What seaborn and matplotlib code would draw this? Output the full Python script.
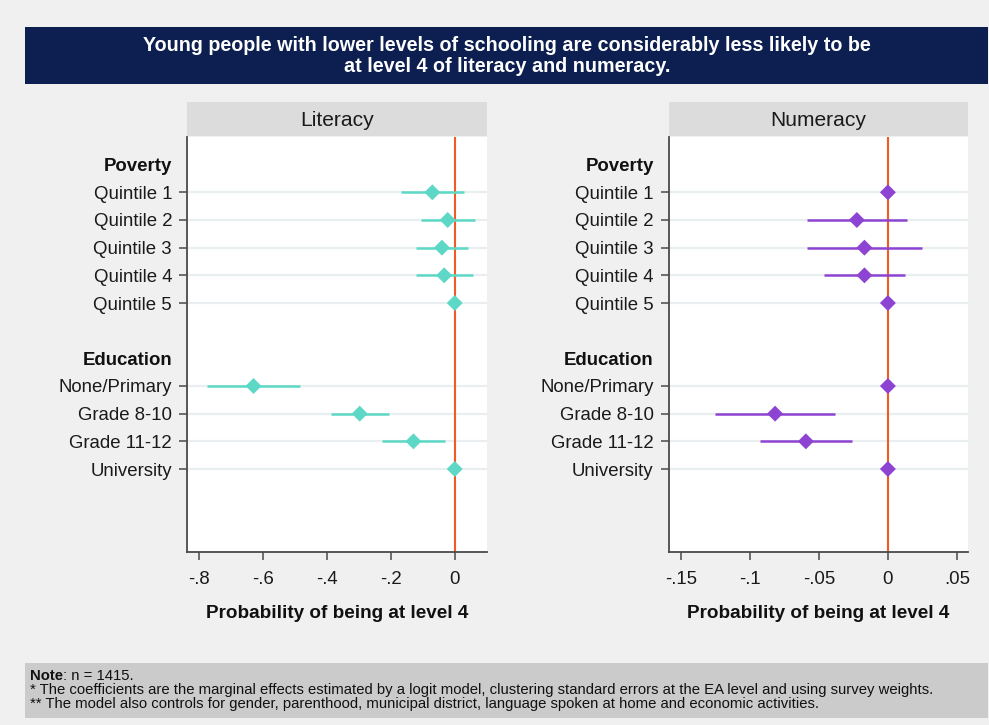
import matplotlib
matplotlib.use("Agg")
import matplotlib.pyplot as plt
import numpy as np
import pandas as pd
import seaborn as sns
from matplotlib.patches import Rectangle
from matplotlib.text import Annotation

# ---- data -------------------------------------------------------------
row_labels = ["Poverty", "Quintile 1", "Quintile 2", "Quintile 3", "Quintile 4",
              "Quintile 5", "", "Education", "None/Primary", "Grade 8-10",
              "Grade 11-12", "University"]
header_labels = ["Poverty", "Education"]

categories = ["Quintile 1", "Quintile 2", "Quintile 3", "Quintile 4", "Quintile 5",
              "None/Primary", "Grade 8-10", "Grade 11-12", "University"]

lit_coef = [-0.070, -0.022, -0.040, -0.033, 0.0, -0.629, -0.297, -0.129, 0.0]
lit_low = [-0.167, -0.106, -0.120, -0.122, 0.0, -0.773, -0.388, -0.226, 0.0]
lit_high = [0.028, 0.063, 0.042, 0.056, 0.0, -0.484, -0.205, -0.031, 0.0]

num_coef = [0.0, -0.0225, -0.017, -0.017, 0.0, 0.0, -0.0817, -0.0594, 0.0]
num_low = [0.0, -0.0585, -0.0585, -0.046, 0.0, 0.0, -0.125, -0.0928, 0.0]
num_high = [0.0, 0.0135, 0.0249, 0.0123, 0.0, 0.0, -0.0382, -0.0259, 0.0]

lit_ticks = [-0.8, -0.6, -0.4, -0.2, 0.0]
lit_ticklabels = ["-.8", "-.6", "-.4", "-.2", "0"]
num_ticks = [-0.15, -0.10, -0.05, 0.0, 0.05]
num_ticklabels = ["-.15", "-.1", "-.05", "0", ".05"]

title = ("Young people with lower levels of schooling are considerably less likely to be\n"
         "at level 4 of literacy and numeracy.")
x_label = "Probability of being at level 4"
notes = ["* The coefficients are the marginal effects estimated by a logit model, clustering standard errors at the EA level and using survey weights.",
         "** The model also controls for gender, parenthood, municipal district, language spoken at home and economic activities."]

# ---- style ------------------------------------------------------------
sns.set_theme(style="white")
plt.rcParams["font.family"] = ["Liberation Sans", "DejaVu Sans"]

BG = "#f0f0f0"
NAVY = "#0c1f50"
STRIP = "#dcdcdc"
NOTE_BG = "#cbcbcb"
REF = "#f05a23"
TEAL = "#5dd8c6"
PURPLE = "#8e44d2"
GRID = "#e9eff1"
SPINE = "#4a4a4a"

W, H = 989, 725
fig = plt.figure(figsize=(W / 100, H / 100), dpi=100, facecolor=BG)


def fx(px):
    return px / W


def fy(py):
    return 1 - py / H


# title banner
fig.add_artist(Rectangle((fx(25), fy(84)), fx(988) - fx(25), fy(27) - fy(84),
                         transform=fig.transFigure, facecolor=NAVY, edgecolor="none"))
fig.text(fx(507), fy(56), title, ha="center", va="center", color="white",
         fontsize=14.2, fontweight="bold", linespacing=1.15)

# note box
NOTE_FS = 10.7
fig.add_artist(Rectangle((fx(25), fy(718)), fx(988) - fx(25), fy(663) - fy(718),
                         transform=fig.transFigure, facecolor=NOTE_BG, edgecolor="none"))
t_note = fig.text(fx(30), fy(676), "Note", ha="left", va="center", fontsize=NOTE_FS,
                  fontweight="bold", color="#111111")
fig.add_artist(Annotation(": n = 1415.", xy=(1, 0), xycoords=t_note, ha="left",
                          va="bottom", fontsize=NOTE_FS, color="#111111"))
for i, line in enumerate(notes):
    fig.text(fx(30), fy(690 + 14 * i), line, ha="left", va="center", fontsize=NOTE_FS,
             color="#111111")

positions = {lab: i for i, lab in enumerate(row_labels)}
panels = [
    ("Literacy", 187.3, 486.7, lit_coef, lit_low, lit_high, TEAL,
     (-0.836, 0.100), lit_ticks, lit_ticklabels),
    ("Numeracy", 669.0, 968.0, num_coef, num_low, num_high, PURPLE,
     (-0.1585, 0.058), num_ticks, num_ticklabels),
]

top_px, bot_px = 137.0, 552.0
for name, x0, x1, coef, low, high, color, xlim, ticks, ticklabels in panels:
    ax = fig.add_axes([fx(x0), fy(bot_px), fx(x1) - fx(x0), fy(top_px) - fy(bot_px)])
    ax.set_facecolor("white")

    df = pd.DataFrame({"category": categories, "coef": coef, "low": low, "high": high})
    df["pos"] = df["category"].map(positions)

    # light row guides
    for p in df["pos"]:
        ax.axhline(p, color=GRID, lw=1.6, zorder=1)

    ax.axvline(0, color=REF, lw=1.5, zorder=2)
    ax.hlines(df["pos"], df["low"], df["high"], color=color, lw=1.8, zorder=3)
    sns.scatterplot(data=df, x="coef", y="pos", marker="D", s=66, color=color,
                    edgecolor="none", linewidth=0, ax=ax, zorder=4, legend=False)

    ax.set_xlim(*xlim)
    ax.set_ylim(14, -1)
    ax.set_xticks(ticks)
    ax.set_xticklabels(ticklabels)
    ax.set_yticks(range(len(row_labels)))
    ax.set_yticklabels(row_labels)
    ax.set_xlabel(x_label, fontsize=13.6, fontweight="bold", labelpad=12, color="#111111")
    ax.set_ylabel("")

    for side in ("top", "right"):
        ax.spines[side].set_visible(False)
    for side in ("left", "bottom"):
        ax.spines[side].set_color(SPINE)
        ax.spines[side].set_linewidth(1.3)

    ax.tick_params(axis="both", which="both", direction="out", length=6, width=1.1,
                   color=SPINE, labelsize=13.4, labelcolor="#1a1a1a", pad=5,
                   left=True, bottom=True)
    ax.tick_params(axis="x", pad=8)

    for i, lab in enumerate(ax.get_yticklabels()):
        text = row_labels[i]
        if text in header_labels:
            lab.set_fontweight("bold")
            lab.set_color("#111111")
        if text in header_labels or text == "":
            ax.yaxis.get_major_ticks()[i].tick1line.set_visible(False)

    # panel strip
    fig.add_artist(Rectangle((fx(x0), fy(135.7)), fx(x1) - fx(x0), fy(102.3) - fy(135.7),
                             transform=fig.transFigure, facecolor=STRIP, edgecolor="none"))
    fig.text((fx(x0) + fx(x1)) / 2, fy(120.5), name, ha="center", va="center",
             fontsize=15.1, color="#1a1a1a")

fig.savefig("out.png", dpi=100, facecolor=BG)
